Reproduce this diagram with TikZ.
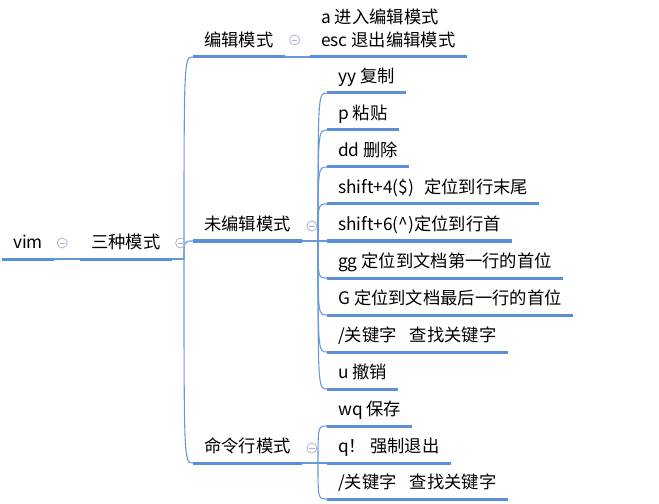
\documentclass[tikz,border=0pt]{standalone}
\usepackage{fontspec}
\setmainfont{Noto Sans CJK SC}
\definecolor{mapblue}{RGB}{91,143,214}
\definecolor{linkblue}{RGB}{104,152,218}
\definecolor{foldgray}{RGB}{165,182,214}
\begin{document}
\begin{tikzpicture}[x=1bp,y=-1bp,
  topic/.style={anchor=south west, inner xsep=11bp, inner ysep=7bp, text depth=3bp,
    font=\fontsize{17.3bp}{23bp}\selectfont},
  uline/.style={draw=mapblue, line width=3bp},
  link/.style={draw=linkblue, line width=1.1bp},
  fold/.style={circle, draw=foldgray, line width=0.8bp, inner sep=0pt, minimum size=10bp,
    path picture={\draw[foldgray, line width=0.8bp]
      ([xshift=-2.6bp]path picture bounding box.center) -- ([xshift=2.6bp]path picture bounding box.center);}}]
\useasboundingbox (0,0) rectangle (659,504);
\node[topic] (vim) at (2,259) {vim};
\node[topic] (modes) at (80,259) {三种模式};
\node[topic] (edit) at (193,57) {编辑模式};
\node[topic, align=left] (editkeys) at (310,57) {a 进入编辑模式\\esc 退出编辑模式};
\node[topic] (normal) at (193,241) {未编辑模式};
\node[topic] (yy) at (327,93) {yy 复制};
\node[topic] (paste) at (327,130) {p 粘贴};
\node[topic] (dd) at (327,167) {dd 删除};
\node[topic] (lineend) at (327,204) {shift+4(\$)\hspace{10bp}定位到行末尾};
\node[topic] (linehead) at (327,241) {shift+6(\^{})定位到行首};
\node[topic] (gg) at (327,278) {gg 定位到文档第一行的首位};
\node[topic] (bigG) at (327,315) {G 定位到文档最后一行的首位};
\node[topic] (search) at (327,352) {/关键字\hspace{13bp}查找关键字};
\node[topic] (undo) at (327,389) {u 撤销};
\node[topic] (cmd) at (193,463) {命令行模式};
\node[topic] (wq) at (327,426) {wq 保存};
\node[topic] (quit) at (327,463) {q！ 强制退出};
\node[topic] (cmdsearch) at (327,499) {/关键字\hspace{13bp}查找关键字};
\draw[uline] (vim.south west) -- (vim.south east);
\draw[uline] (modes.south west) -- (modes.south east);
\draw[uline] (edit.south west) -- (edit.south east);
\draw[uline] (editkeys.south west) -- (editkeys.south east);
\draw[uline] (normal.south west) -- (normal.south east);
\draw[uline] (yy.south west) -- (yy.south east);
\draw[uline] (paste.south west) -- (paste.south east);
\draw[uline] (dd.south west) -- (dd.south east);
\draw[uline] (lineend.south west) -- (lineend.south east);
\draw[uline] (linehead.south west) -- (linehead.south east);
\draw[uline] (gg.south west) -- (gg.south east);
\draw[uline] (bigG.south west) -- (bigG.south east);
\draw[uline] (search.south west) -- (search.south east);
\draw[uline] (undo.south west) -- (undo.south east);
\draw[uline] (cmd.south west) -- (cmd.south east);
\draw[uline] (wq.south west) -- (wq.south east);
\draw[uline] (quit.south west) -- (quit.south east);
\draw[uline] (cmdsearch.south west) -- (cmdsearch.south east);
\coordinate (j1) at (184,259);
\coordinate (j2) at (318,241);
\coordinate (j3) at (318,463);
\draw[link] (vim.south east) -- (modes.south west);
\draw[link] (modes.south east) -- (j1);
\draw[link] (j1) .. controls (j1 |- edit.south west) .. (edit.south west);
\draw[link] (j1) .. controls (j1 |- normal.south west) .. (normal.south west);
\draw[link] (j1) .. controls (j1 |- cmd.south west) .. (cmd.south west);
\draw[link] (edit.south east) -- (editkeys.south west);
\draw[link] (normal.south east) -- (j2);
\draw[link] (j2) .. controls (j2 |- yy.south west) .. (yy.south west);
\draw[link] (j2) .. controls (j2 |- paste.south west) .. (paste.south west);
\draw[link] (j2) .. controls (j2 |- dd.south west) .. (dd.south west);
\draw[link] (j2) .. controls (j2 |- lineend.south west) .. (lineend.south west);
\draw[link] (j2) -- (linehead.south west);
\draw[link] (j2) .. controls (j2 |- gg.south west) .. (gg.south west);
\draw[link] (j2) .. controls (j2 |- bigG.south west) .. (bigG.south west);
\draw[link] (j2) .. controls (j2 |- search.south west) .. (search.south west);
\draw[link] (j2) .. controls (j2 |- undo.south west) .. (undo.south west);
\draw[link] (cmd.south east) -- (j3);
\draw[link] (j3) .. controls (j3 |- wq.south west) .. (wq.south west);
\draw[link] (j3) -- (quit.south west);
\draw[link] (j3) .. controls (j3 |- cmdsearch.south west) .. (cmdsearch.south west);
\node[fold] (fvim) at ([xshift=8bp,yshift=16bp]vim.south east) {};
\node[fold] (fmodes) at ([xshift=9bp,yshift=16bp]modes.south east) {};
\node[fold] (fedit) at ([xshift=10bp,yshift=17bp]edit.south east) {};
\node[fold] (fnormal) at ([xshift=10bp,yshift=15bp]normal.south east) {};
\node[fold] (fcmd) at ([xshift=10bp,yshift=15bp]cmd.south east) {};
\end{tikzpicture}
\end{document}
